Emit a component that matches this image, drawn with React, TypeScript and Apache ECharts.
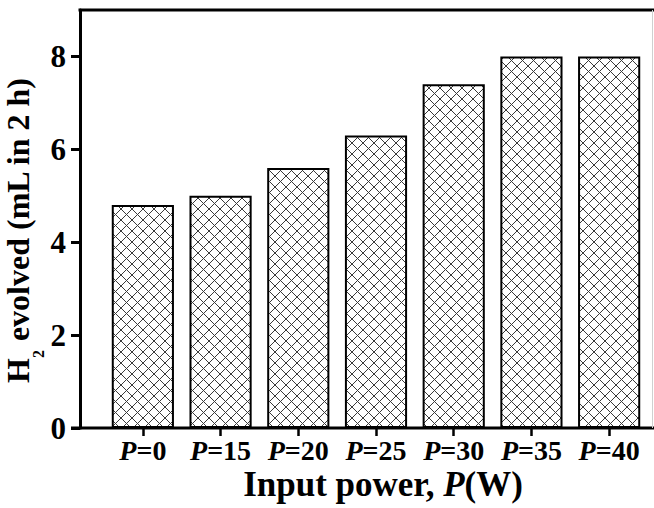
import React, { useEffect, useRef } from "react";
import * as echarts from "echarts";

// Input power settings (W) and hydrogen evolved in 2 h (mL)
const POWER_LEVELS = ["0", "15", "20", "25", "30", "35", "40"];
const H2_EVOLVED = [4.8, 5.0, 5.6, 6.3, 7.4, 8.0, 8.0];
const Y_TICKS = [0, 2, 4, 6, 8];
const Y_MAX = 9;

const W = 654;
const H = 508;
const GRID_LEFT = 104;
const GRID_RIGHT = 6;
const GRID_TOP = 10;
const GRID_BOTTOM = 80;
const AXIS_X = 80; // left frame line
const FONT = "Liberation Serif";

// Cross-hatched tile for the bar fill
function makeHatch(): HTMLCanvasElement {
  const size = 11;
  const c = document.createElement("canvas");
  c.width = size;
  c.height = size;
  const ctx = c.getContext("2d")!;
  ctx.fillStyle = "#ffffff";
  ctx.fillRect(0, 0, size, size);
  ctx.strokeStyle = "#3a3a3a";
  ctx.lineWidth = 1;
  ctx.beginPath();
  ctx.moveTo(-1, -1);
  ctx.lineTo(size + 1, size + 1);
  ctx.moveTo(size + 1, -1);
  ctx.lineTo(-1, size + 1);
  ctx.stroke();
  return c;
}

export default function App() {
  const ref = useRef<HTMLDivElement>(null);

  useEffect(() => {
    if (!ref.current) return;
    const chart = echarts.init(ref.current, null, { renderer: "svg", width: W, height: H });
    const hatch = makeHatch();
    const bottomY = H - GRID_BOTTOM;

    chart.setOption({
      animation: false,
      backgroundColor: "#ffffff",
      grid: { left: GRID_LEFT, right: GRID_RIGHT, top: GRID_TOP, bottom: GRID_BOTTOM, containLabel: false },
      xAxis: {
        type: "category",
        data: POWER_LEVELS,
        axisLine: { show: false },
        axisTick: { show: true, alignWithLabel: true, interval: 0, length: 8, lineStyle: { color: "#000", width: 2.5 } },
        axisLabel: {
          interval: 0,
          hideOverlap: false,
          margin: 8,
          fontFamily: FONT,
          fontSize: 28,
          fontWeight: "bold",
          color: "#000",
          formatter: (v: string) => `{p|P}{n|=${v}}`,
          rich: {
            p: { fontFamily: FONT, fontSize: 28, fontWeight: "bold", fontStyle: "italic", color: "#000" },
            n: { fontFamily: FONT, fontSize: 28, fontWeight: "bold", color: "#000" },
          },
        },
        splitLine: { show: false },
      },
      yAxis: {
        type: "value",
        min: 0,
        max: Y_MAX,
        interval: 2,
        offset: GRID_LEFT - AXIS_X,
        axisLine: { show: true, lineStyle: { color: "#000", width: 3 } },
        axisTick: { show: true, length: 9, customValues: Y_TICKS, lineStyle: { color: "#000", width: 3 } },
        axisLabel: {
          margin: 14,
          customValues: Y_TICKS,
          fontFamily: FONT,
          fontSize: 31,
          fontWeight: "bold",
          color: "#000",
        },
        splitLine: { show: false },
      },
      series: [
        {
          type: "bar",
          data: H2_EVOLVED,
          barCategoryGap: "20%",
          itemStyle: {
            color: { image: hatch, repeat: "repeat" },
            borderColor: "#000",
            borderWidth: 2,
          },
        },
      ],
      graphic: [
        // frame: bottom, top and faint right edge
        { type: "line", z: 100, shape: { x1: 71, y1: bottomY, x2: W, y2: bottomY }, style: { stroke: "#000", lineWidth: 3 } },
        { type: "line", z: 100, shape: { x1: AXIS_X - 1.5, y1: GRID_TOP, x2: W, y2: GRID_TOP }, style: { stroke: "#000", lineWidth: 3 } },
        { type: "line", z: 100, shape: { x1: 652.5, y1: GRID_TOP, x2: 652.5, y2: bottomY }, style: { stroke: "#d0d0d0", lineWidth: 1 } },
        // y-axis title
        {
          type: "text",
          x: 18,
          y: 230,
          rotation: Math.PI / 2,
          style: {
            text: "{h|H}{s|2}{h| evolved (mL in 2 h)}",
            align: "center",
            verticalAlign: "middle",
            rich: {
              h: { fontFamily: FONT, fontSize: 32, fontWeight: "bold", lineHeight: 32, fill: "#000" },
              s: { fontFamily: FONT, fontSize: 16, fontWeight: "bold", lineHeight: 16, padding: [40, 0, 0, 0], fill: "#000" },
            },
          },
        },
        // x-axis title
        {
          type: "text",
          x: 383,
          y: 484,
          style: {
            text: "{b|Input power, }{i|P}{b|(W)}",
            align: "center",
            verticalAlign: "middle",
            rich: {
              b: { fontFamily: FONT, fontSize: 35, fontWeight: "bold", fill: "#000" },
              i: { fontFamily: FONT, fontSize: 35, fontWeight: "bold", fontStyle: "italic", fill: "#000" },
            },
          },
        },
      ],
    });

    return () => chart.dispose();
  }, []);

  return (
    <div
      ref={ref}
      style={{ position: "fixed", left: 0, top: 0, width: W, height: H, background: "#fff" }}
    />
  );
}
